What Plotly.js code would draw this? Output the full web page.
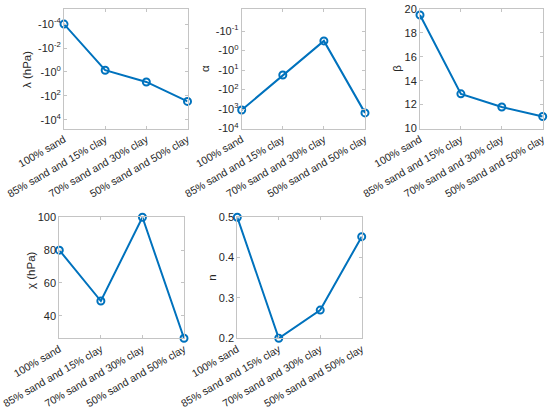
<!DOCTYPE html>
<html>
<head>
<meta charset="utf-8">
<script src="https://cdn.plot.ly/plotly-3.0.1.min.js"></script>
<style>html,body{margin:0;padding:0;background:#fff;}#chart{width:550px;height:413px;}</style>
</head>
<body>
<div id="chart"></div>
<script>
const categories = ["100% sand", "85% sand and 15% clay", "70% sand and 30% clay", "50% sand and 50% clay"];
const lambdaVals = [-1e-4, -0.72, -6.9, -290];
const alphaVals = [-1120, -18, -0.32, -1580];
const betaVals = [19.5, 12.9, 11.8, 11.0];
const chiVals = [80, 49, 100, 26.3];
const nVals = [0.5, 0.2, 0.27, 0.452];
const lambdaTicks = [1e-4, 1e-2, 1, 1e2, 1e4];
const lambdaTickText = ["-10<sup>-4</sup>", "-10<sup>-2</sup>", "-10<sup>0</sup>", "-10<sup>2</sup>", "-10<sup>4</sup>"];
const alphaTicks = [1e-1, 1, 1e1, 1e2, 1e3, 1e4];
const alphaTickText = ["-10<sup>-1</sup>", "-10<sup>0</sup>", "-10<sup>1</sup>", "-10<sup>2</sup>", "-10<sup>3</sup>", "-10<sup>4</sup>"];
const betaTicks = [10, 12, 14, 16, 18, 20];
const chiTicks = [40, 60, 80, 100];
const nTicks = [0.2, 0.3, 0.4, 0.5];

const W = 550, H = 413;
const blue = '#0072BD';
const txt = '#262626';
const boxc = '#c4c4c4';
const fontFam = 'Liberation Sans, Arial, sans-serif';

function trace(y, xa, ya) {
  return {
    x: categories, y: y, xaxis: xa, yaxis: ya, type: 'scatter', mode: 'lines+markers',
    line: {color: blue, width: 2},
    marker: {symbol: 'circle-open', size: 7, color: blue, line: {width: 2, color: blue}},
    cliponaxis: false, showlegend: false, hoverinfo: 'skip'
  };
}
function xax(x0, x1, anchor) {
  return {
    domain: [x0 / W, x1 / W], anchor: anchor, type: 'category', range: [0, 3],
    tickangle: -30, tickfont: {size: 10.5, color: txt, family: fontFam},
    ticks: 'inside', ticklen: 3, tickcolor: boxc, showline: true, linecolor: boxc, linewidth: 1,
    mirror: 'ticks', showgrid: false, zeroline: false, fixedrange: true
  };
}
function yax(y0, y1, anchor, extra) {
  return Object.assign({
    domain: [1 - y1 / H, 1 - y0 / H], anchor: anchor,
    tickfont: {size: 11, color: txt, family: fontFam},
    ticks: 'inside', ticklen: 3, tickcolor: boxc, showline: true, linecolor: boxc, linewidth: 1,
    mirror: 'ticks', showgrid: false, zeroline: false, fixedrange: true
  }, extra);
}

const data = [
  trace(lambdaVals.map(Math.abs), 'x', 'y'),
  trace(alphaVals.map(Math.abs), 'x2', 'y2'),
  trace(betaVals, 'x3', 'y3'),
  trace(chiVals, 'x4', 'y4'),
  trace(nVals, 'x5', 'y5')
];

const topY = [9, 128.5], botY = [217.3, 338.3];
const layout = {
  width: W, height: H, margin: {l: 0, r: 0, t: 0, b: 0},
  paper_bgcolor: '#fff', plot_bgcolor: '#fff',
  font: {family: fontFam, color: txt, size: 11},
  xaxis: xax(64, 187.5, 'y'),
  yaxis: yax(topY[0], topY[1], 'x', {type: 'log', range: [4.73, -5.26], tickvals: lambdaTicks, ticktext: lambdaTickText}),
  xaxis2: xax(241.7, 365, 'y2'),
  yaxis2: yax(topY[0], topY[1], 'x2', {type: 'log', range: [4.0, -2.13], tickvals: alphaTicks, ticktext: alphaTickText}),
  xaxis3: xax(420, 542.7, 'y3'),
  yaxis3: yax(topY[0], topY[1], 'x3', {range: [10, 20], tickvals: betaTicks}),
  xaxis4: xax(59.3, 184, 'y4'),
  yaxis4: yax(botY[0], botY[1], 'x4', {range: [Math.min(...chiVals), Math.max(...chiVals)], tickvals: chiTicks}),
  xaxis5: xax(237.3, 361.7, 'y5'),
  yaxis5: yax(botY[0], botY[1], 'x5', {range: [Math.min(...nVals), Math.max(...nVals)], tickvals: nTicks}),
  annotations: [
    {text: 'λ (hPa)', x: 27 / W, y: 1 - 70 / H},
    {text: 'α', x: 205 / W, y: 1 - 69 / H},
    {text: 'β', x: 396.7 / W, y: 1 - 68 / H},
    {text: 'χ (hPa)', x: 31 / W, y: 1 - 270 / H},
    {text: 'n', x: 211.7 / W, y: 1 - 278 / H}
  ].map(a => Object.assign({xref: 'paper', yref: 'paper', showarrow: false, textangle: -90,
    xanchor: 'center', yanchor: 'middle', font: {size: 11.5, color: txt, family: fontFam}}, a))
};

Plotly.newPlot('chart', data, layout, {staticPlot: true, displayModeBar: false});
</script>
</body>
</html>
